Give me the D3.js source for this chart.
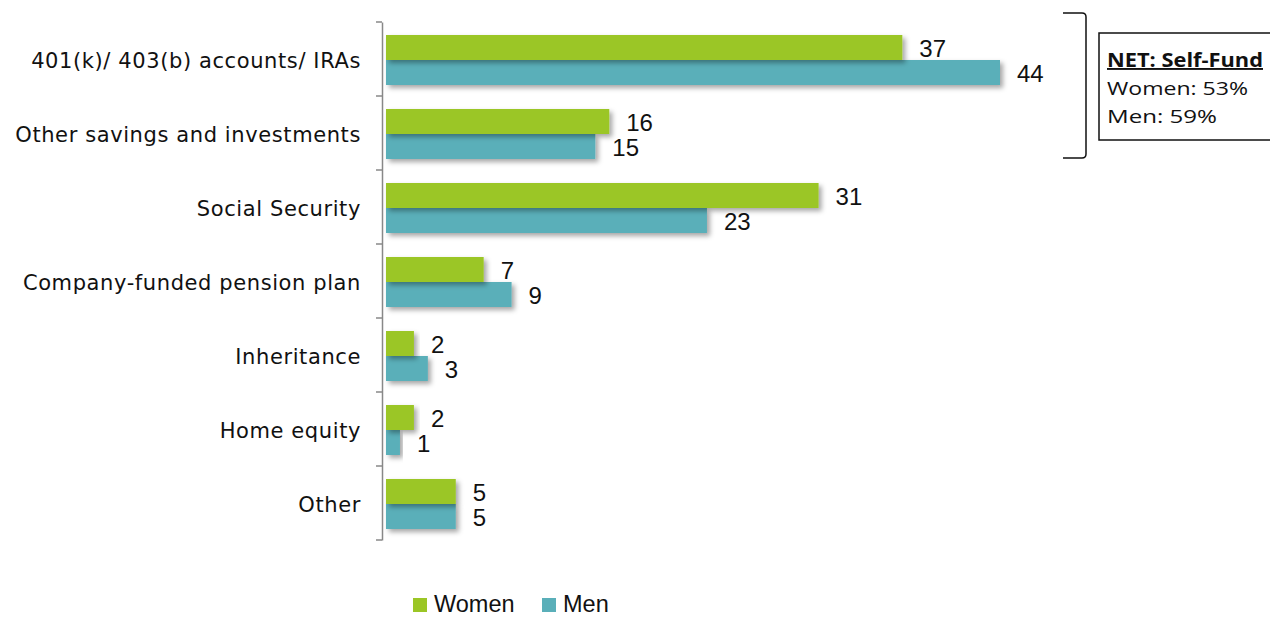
<!DOCTYPE html>
<html><head><meta charset="utf-8">
<script src="https://cdn.jsdelivr.net/npm/d3@7"></script>
<style>body{margin:0;background:#fff;}svg{display:block;}</style>
</head><body>
<svg id="c" width="1270" height="618"></svg>
<script>
const categories = ["401(k)/ 403(b) accounts/ IRAs","Other savings and investments","Social Security","Company-funded pension plan","Inheritance","Home equity","Other"];
const women = [37,16,31,7,2,2,5];
const men = [44,15,23,9,3,1,5];
const seriesNames = ["Women","Men"];
const colors = ["#9BC625","#5AAFB9"];
const netTitle = "NET: Self-Fund";
const netLines = ["Women: 53%","Men: 59%"];

const svg = d3.select("#c");
const defs = svg.append("defs");
const f = defs.append("filter").attr("id","sh").attr("x","-10%").attr("y","-30%").attr("width","130%").attr("height","180%");
f.append("feDropShadow").attr("dx",3).attr("dy",3).attr("stdDeviation",2.5).attr("flood-color","#000").attr("flood-opacity",0.35);

const x = d3.scaleLinear().domain([0,44]).range([386,1000]);
const y = d3.scaleBand().domain(categories).range([22,540]).paddingInner(0).paddingOuter(0);
const inner = d3.scaleBand().domain(seriesNames).range([13,63]);

// axis
const ax = d3.axisLeft(y).tickSize(0).tickFormat(()=>"");
const axG = svg.append("g").attr("transform","translate(382,0)").call(ax);
axG.select(".domain").attr("stroke","#888").attr("stroke-width",1.5);
const tickYs = [22].concat(categories.map(c=>y(c)+y.bandwidth()));
svg.append("g").selectAll("line").data(tickYs).join("line")
  .attr("x1",376).attr("x2",382).attr("y1",d=>d).attr("y2",d=>d)
  .attr("stroke","#888").attr("stroke-width",1.5);

// category labels
svg.append("g").selectAll("text").data(categories).join("text")
  .attr("x",361).attr("y",d=>y(d)+y.bandwidth()/2+2).attr("dy","0.35em")
  .attr("text-anchor","end").attr("font-family","DejaVu Sans, sans-serif")
  .attr("font-size",21).attr("letter-spacing",0.6).attr("fill","#111").text(d=>d);

const data = [];
categories.forEach((c,i)=>{
  data.push({c, s:"Women", v:women[i]});
  data.push({c, s:"Men", v:men[i]});
});
svg.append("g").selectAll("rect").data(data.filter(d=>d.s==="Men").concat(data.filter(d=>d.s==="Women"))).join("rect")
  .attr("x",x(0)).attr("y",d=>y(d.c)+inner(d.s))
  .attr("width",d=>x(d.v)-x(0)).attr("height",inner.bandwidth())
  .attr("fill",d=>colors[seriesNames.indexOf(d.s)])
  .attr("filter","url(#sh)");

svg.append("g").selectAll("text").data(data).join("text")
  .attr("x",d=>x(d.v)+17).attr("y",d=>y(d.c)+inner(d.s)+inner.bandwidth()/2+1).attr("dy","0.35em")
  .attr("font-family","Liberation Sans, Arial, sans-serif").attr("font-size",24).attr("fill","#111")
  .text(d=>d.v);

// bracket
svg.append("path").attr("d","M1063,13 L1082,13 Q1086,13 1086,17 L1086,154 Q1086,158 1082,158 L1063,158")
  .attr("fill","none").attr("stroke","#111").attr("stroke-width",1.5);
// box
svg.append("rect").attr("x",1099).attr("y",33).attr("width",180).attr("height",107)
  .attr("fill","#fff").attr("stroke","#111").attr("stroke-width",1.5);
const bt = svg.append("g").attr("font-family","Open Sans, sans-serif").attr("font-size",19).attr("fill","#111");
bt.append("text").attr("x",1107).attr("y",67).attr("font-weight","bold").attr("text-decoration","underline")
  .attr("textLength",156).attr("lengthAdjust","spacingAndGlyphs").text(netTitle);
const netW = [141,110];
netLines.forEach((t,i)=>bt.append("text").attr("x",1107).attr("y",95+i*28)
  .attr("textLength",netW[i]).attr("lengthAdjust","spacingAndGlyphs").text(t));

// legend
const lg = svg.append("g").attr("font-family","Liberation Sans, Arial, sans-serif").attr("font-size",23.5).attr("fill","#111");
const lx = [413,542];
seriesNames.forEach((s,i)=>{
  lg.append("rect").attr("x",lx[i]).attr("y",598).attr("width",14).attr("height",14).attr("fill",colors[i]);
  lg.append("text").attr("x",lx[i]+21).attr("y",612).text(s);
});
</script>
</body></html>
